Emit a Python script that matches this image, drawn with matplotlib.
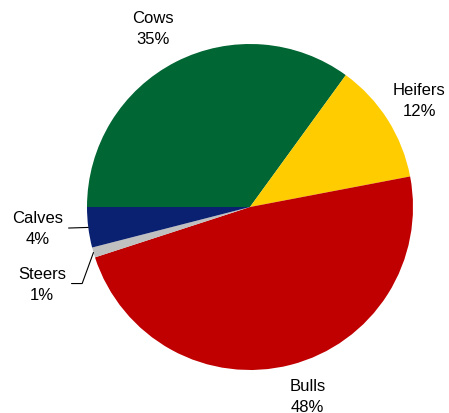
import numpy as np
import matplotlib.pyplot as plt

plt.rcParams['font.family'] = ['Liberation Sans', 'DejaVu Sans']

animals = ["Cows", "Heifers", "Bulls", "Steers", "Calves"]
shares = [35, 12, 48, 1, 4]
colors = ["#006633", "#FFCC00", "#C00000", "#C0C0C0", "#0A2070"]

fig = plt.figure(figsize=(4.49, 4.14), dpi=100)
ax = fig.add_axes([0, 0, 1, 1])

cx, cy, r = 250, 206, 163
wedges, _ = ax.pie(shares, colors=colors, startangle=180, counterclock=False,
                   center=(cx, cy), radius=r, frame=True,
                   wedgeprops={"linewidth": 0})
ax.set_xlim(0, 449)
ax.set_ylim(0, 414)
ax.set_aspect('equal')
ax.axis('off')

# label placement: (radius factor, angle shift in degrees)
label_pos = {"Cows": (1.25, 1.5), "Heifers": (1.23, 0), "Bulls": (1.21, 2.5),
             "Steers": (1.36, 4), "Calves": (1.31, -1.5)}

for w, name, pct in zip(wedges, animals, shares):
    mid = np.deg2rad((w.theta1 + w.theta2) / 2)
    f, shift = label_pos[name]
    a = mid + np.deg2rad(shift)
    tx, ty = cx + f * r * np.cos(a), cy + f * r * np.sin(a)
    text = f"{name}\n{pct}%"
    if name in ("Steers", "Calves"):
        ex, ey = cx + r * np.cos(mid), cy + r * np.sin(mid)
        if name == "Steers":
            conn = "angle,angleA=0,angleB=70,rad=0"
        else:
            conn = "arc3,rad=0"
        ax.annotate(text, xy=(ex, ey), xytext=(tx, ty), ha='center', va='center',
                    fontsize=12, linespacing=1.5,
                    arrowprops=dict(arrowstyle='-', color='black', lw=0.8,
                                    shrinkA=2, shrinkB=0, relpos=(1, 0.5),
                                    connectionstyle=conn))
    else:
        ax.text(tx, ty, text, ha='center', va='center', fontsize=12,
                linespacing=1.5)

fig.savefig("out.png", dpi=100)
